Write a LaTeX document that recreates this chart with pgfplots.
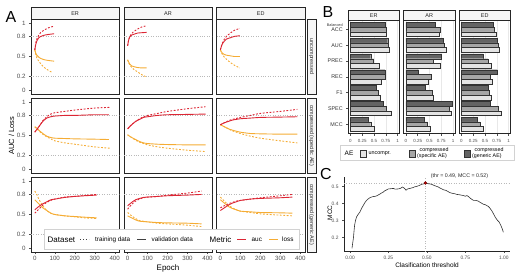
\documentclass[border=0pt]{standalone}
\usepackage{pgfplots}
\pgfplotsset{compat=1.18}
\usepackage{fontspec}
\setmainfont{Liberation Sans}
\definecolor{aucred}{RGB}{220,38,52}
\definecolor{lossor}{RGB}{245,172,52}
\definecolor{tickgray}{RGB}{77,77,77}
\definecolor{genc}{RGB}{100,100,100}
\definecolor{specc}{RGB}{166,166,166}
\definecolor{uncc}{RGB}{228,228,228}
\newcommand{\fs}[1]{\fontsize{#1}{#1}\selectfont}

\pgfplotsset{
  Abase/.style={
    scale only axis, width=88.3bp, height=75bp, anchor=north west,
    xmin=-19, xmax=423, ymin=-0.06, ymax=1.06,
    xtick={0,100,200,300,400}, ytick={0,0.2,0.5,0.8,1},
    yticklabels={0,0.2,0.5,0.8,1},
    axis line style={line width=0.6bp, black!85},
    tick align=outside, major tick length=2bp,
    tick style={tickgray, line width=0.4bp},
    xtick pos=left, ytick pos=left,
    ticklabel style={font=\fs{6.2}, text=tickgray},
    xticklabel style={yshift=1bp},
    /pgf/number format/assume math mode=true,
    no markers,
  },
  gridA/.style={gray!55, dotted, line width=0.45bp, forget plot},
  aucval/.style={aucred, line width=0.9bp, smooth, tension=0.4},
  auctr/.style={aucred, line width=0.9bp, smooth, tension=0.4, dash pattern=on 1.8bp off 1.6bp},
  lossval/.style={lossor, line width=0.9bp, smooth, tension=0.4},
  losstr/.style={lossor, line width=0.9bp, smooth, tension=0.4, dash pattern=on 1.8bp off 1.6bp},
  Bbase/.style={
    scale only axis, width=51.5bp, height=113.7bp, anchor=north west,
    xmin=-0.05, xmax=1.04, ymin=-0.6, ymax=6.6, y dir=reverse,
    xtick={0,0.25,0.5,0.75,1}, xticklabels={0,0.25,0.5,0.75,1},
    ytick={0,1,2,3,4,5,6},
    xmajorgrids, major grid style={gray!18, line width=0.5bp},
    axis line style={line width=0.6bp, black!85},
    tick align=outside, major tick length=1.8bp,
    tick style={tickgray, line width=0.4bp},
    xtick pos=left, ytick pos=left,
    xticklabel style={font=\fs{4.5}, text=tickgray},
    yticklabel style={font=\fs{5.4}, text=black!80},
    /pgf/number format/assume math mode=true,
  },
  gbar/.style={xbar, bar width=0.3, bar shift=-0.3, fill=genc, draw=black!80, line width=0.35bp},
  sbar/.style={xbar, bar width=0.3, bar shift=0, fill=specc, draw=black!80, line width=0.35bp},
  ubar/.style={xbar, bar width=0.3, bar shift=0.3, fill=uncc, draw=black!80, line width=0.35bp},
}
\newcommand{\gridA}{%
  \addplot[gridA] coordinates {(-19,0.2) (423,0.2)};
  \addplot[gridA] coordinates {(-19,0.8) (423,0.8)};}

\begin{document}
\begin{tikzpicture}
\useasboundingbox (0,0) rectangle (520bp,-277bp);

% ================= PANEL A =================
% ---- row 1: uncompressed
\begin{axis}[Abase, at={(31bp,-19bp)}, xmajorticks=false]
\gridA
\addplot[lossval] coordinates {(0,0.60) (5,0.55) (10,0.52) (20,0.49) (30,0.47) (50,0.45) (70,0.44) (97,0.43)};
\addplot[losstr] coordinates {(0,0.60) (5,0.53) (10,0.48) (20,0.43) (30,0.39) (50,0.33) (70,0.29) (88,0.26)};
\addplot[aucval] coordinates {(0,0.60) (5,0.68) (10,0.73) (20,0.78) (30,0.80) (50,0.82) (70,0.83) (97,0.84)};
\addplot[auctr] coordinates {(0,0.60) (5,0.70) (10,0.76) (20,0.82) (30,0.86) (50,0.90) (70,0.93) (93,0.95)};
\end{axis}
\begin{axis}[Abase, at={(123.8bp,-19bp)}, xmajorticks=false, ymajorticks=false]
\gridA
\addplot[lossval] coordinates {(0,0.45) (5,0.42) (10,0.39) (20,0.36) (30,0.35) (50,0.335) (70,0.33) (95,0.33)};
\addplot[losstr] coordinates {(0,0.45) (5,0.41) (10,0.38) (20,0.34) (30,0.31) (50,0.27) (70,0.23) (90,0.20)};
\addplot[aucval] coordinates {(0,0.66) (5,0.74) (10,0.79) (20,0.82) (30,0.83) (50,0.85) (70,0.855) (95,0.86)};
\addplot[auctr] coordinates {(0,0.66) (5,0.74) (10,0.79) (20,0.84) (30,0.87) (50,0.91) (70,0.94) (95,0.96)};
\end{axis}
\begin{axis}[Abase, at={(216.6bp,-19bp)}, xmajorticks=false, ymajorticks=false]
\gridA
\addplot[lossval] coordinates {(0,0.60) (5,0.57) (10,0.55) (20,0.53) (30,0.52) (50,0.51) (70,0.50) (97,0.50)};
\addplot[losstr] coordinates {(0,0.60) (5,0.56) (10,0.53) (20,0.49) (30,0.46) (50,0.41) (70,0.37) (97,0.33)};
\addplot[aucval] coordinates {(0,0.60) (5,0.65) (10,0.69) (20,0.73) (30,0.76) (50,0.78) (70,0.80) (97,0.81)};
\addplot[auctr] coordinates {(0,0.60) (5,0.66) (10,0.70) (20,0.76) (30,0.80) (50,0.85) (70,0.89) (97,0.92)};
\end{axis}
% ---- row 2: compressed (specific AE)
\begin{axis}[Abase, at={(31bp,-98bp)}, xmajorticks=false]
\gridA
\addplot[lossval] coordinates {(0,0.63) (10,0.61) (20,0.58) (40,0.53) (60,0.49) (80,0.47) (100,0.46) (150,0.455) (200,0.45) (300,0.445) (371,0.44)};
\addplot[losstr] coordinates {(0,0.63) (10,0.60) (20,0.57) (40,0.52) (60,0.48) (80,0.45) (100,0.42) (150,0.39) (200,0.37) (300,0.33) (376,0.31)};
\addplot[aucval] coordinates {(0,0.55) (20,0.63) (40,0.71) (60,0.76) (80,0.78) (100,0.79) (150,0.80) (200,0.80) (300,0.81) (371,0.81)};
\addplot[auctr] coordinates {(0,0.55) (20,0.63) (40,0.72) (60,0.78) (80,0.82) (100,0.84) (150,0.86) (200,0.88) (300,0.91) (376,0.92)};
\end{axis}
\begin{axis}[Abase, at={(123.8bp,-98bp)}, xmajorticks=false, ymajorticks=false]
\gridA
\addplot[lossval] coordinates {(0,0.51) (20,0.47) (40,0.44) (60,0.41) (80,0.39) (100,0.38) (150,0.37) (200,0.365) (300,0.36) (390,0.36)};
\addplot[losstr] coordinates {(0,0.51) (20,0.47) (40,0.43) (60,0.40) (80,0.38) (100,0.36) (150,0.33) (200,0.31) (300,0.28) (390,0.26)};
\addplot[aucval] coordinates {(0,0.60) (20,0.66) (40,0.71) (60,0.74) (80,0.77) (100,0.78) (150,0.80) (200,0.81) (300,0.815) (390,0.82)};
\addplot[auctr] coordinates {(0,0.60) (20,0.66) (40,0.71) (60,0.75) (80,0.78) (100,0.80) (150,0.83) (200,0.86) (300,0.90) (390,0.93)};
\end{axis}
\begin{axis}[Abase, at={(216.6bp,-98bp)}, xmajorticks=false, ymajorticks=false]
\gridA
\addplot[lossval] coordinates {(0,0.66) (20,0.63) (40,0.60) (60,0.58) (100,0.55) (150,0.53) (200,0.525) (300,0.52) (385,0.52)};
\addplot[losstr] coordinates {(0,0.66) (20,0.63) (40,0.60) (60,0.57) (100,0.53) (150,0.49) (200,0.46) (300,0.42) (385,0.39)};
\addplot[aucval] coordinates {(0,0.66) (20,0.69) (40,0.71) (60,0.73) (100,0.75) (150,0.76) (200,0.77) (300,0.775) (385,0.78)};
\addplot[auctr] coordinates {(0,0.66) (20,0.69) (40,0.72) (60,0.74) (100,0.77) (150,0.80) (200,0.83) (300,0.86) (385,0.89)};
\end{axis}
% ---- row 3: compressed (generic AE)
\begin{axis}[Abase, at={(31bp,-177bp)}]
\gridA
\addplot[lossval] coordinates {(0,0.72) (20,0.66) (40,0.60) (60,0.56) (80,0.52) (100,0.50) (150,0.48) (200,0.47) (250,0.46) (310,0.45)};
\addplot[losstr] coordinates {(0,0.85) (10,0.80) (20,0.73) (40,0.63) (60,0.56) (80,0.52) (100,0.50) (150,0.48) (200,0.465) (250,0.45) (310,0.44)};
\addplot[aucval] coordinates {(0,0.57) (20,0.62) (40,0.66) (60,0.69) (80,0.72) (100,0.73) (150,0.755) (200,0.77) (250,0.78) (310,0.79)};
\addplot[auctr] coordinates {(0,0.52) (20,0.58) (40,0.64) (60,0.68) (80,0.71) (100,0.73) (150,0.76) (200,0.77) (250,0.785) (310,0.80)};
\end{axis}
\begin{axis}[Abase, at={(123.8bp,-177bp)}, ymajorticks=false]
\gridA
\addplot[lossval] coordinates {(0,0.48) (20,0.45) (40,0.42) (60,0.40) (100,0.39) (150,0.38) (200,0.375) (300,0.37) (370,0.36)};
\addplot[losstr] coordinates {(0,0.53) (20,0.48) (40,0.44) (60,0.41) (100,0.39) (150,0.37) (200,0.36) (300,0.34) (370,0.32)};
\addplot[aucval] coordinates {(0,0.63) (20,0.68) (40,0.72) (60,0.74) (80,0.755) (100,0.76) (150,0.77) (200,0.78) (300,0.79) (370,0.80)};
\addplot[auctr] coordinates {(0,0.58) (20,0.65) (40,0.70) (60,0.73) (80,0.75) (100,0.76) (150,0.77) (200,0.79) (300,0.82) (370,0.85)};
\end{axis}
\begin{axis}[Abase, at={(216.6bp,-177bp)}, ymajorticks=false]
\gridA
\addplot[lossval] coordinates {(0,0.72) (20,0.67) (40,0.62) (60,0.59) (80,0.57) (100,0.55) (150,0.54) (200,0.53) (300,0.525) (360,0.52)};
\addplot[losstr] coordinates {(0,0.76) (20,0.70) (40,0.64) (60,0.60) (80,0.57) (100,0.55) (150,0.53) (200,0.51) (300,0.49) (360,0.48)};
\addplot[aucval] coordinates {(0,0.56) (20,0.60) (40,0.64) (60,0.67) (80,0.69) (100,0.71) (150,0.73) (200,0.74) (300,0.75) (360,0.76)};
\addplot[auctr] coordinates {(0,0.60) (20,0.63) (40,0.66) (60,0.68) (80,0.70) (100,0.71) (150,0.73) (200,0.75) (300,0.78) (360,0.80)};
\end{axis}

% strips A
\begin{scope}[x=1bp, y=1bp, line width=0.6bp]
\foreach \x/\t in {31/ER, 123.8/AR, 216.6/ED}{
  \draw[fill=gray!7, draw=black!85] (\x,-7) rectangle ({\x+88.3},-19);
  \node[font=\fs{5.5}, text=black!85] at ({\x+44.15},-13.2) {\t};
}
\foreach \y/\t in {19/uncompressed, 98/compressed (specific AE), 177/compressed (generic AE)}{
  \draw[fill=gray!7, draw=black!85] (307,-\y) rectangle (316,{-\y-75});
  \node[font=\fs{5.4}, text=black!85, rotate=-90] at (311.5,{-\y-37.5}) {\t};
}
\end{scope}

% legend A
\draw[fill=white, draw=gray!35, line width=0.5bp] (44bp,-229.5bp) rectangle (299bp,-249bp);
\node[anchor=west, font=\fs{8}, inner sep=0] at (47.5bp,-239.5bp) {Dataset};
\draw[black!75, line width=0.9bp, dash pattern=on 1.4bp off 1.6bp] (80bp,-239.5bp) -- (89bp,-239.5bp);
\node[anchor=west, font=\fs{6.4}, inner sep=0] at (95bp,-239.5bp) {training data};
\draw[black!75, line width=0.9bp] (137bp,-239.5bp) -- (146bp,-239.5bp);
\node[anchor=west, font=\fs{6.4}, inner sep=0] at (151.5bp,-239.5bp) {validation data};
\node[anchor=west, font=\fs{8}, inner sep=0] at (209.5bp,-239.5bp) {Metric};
\draw[aucred, line width=0.9bp] (237bp,-239.5bp) -- (246bp,-239.5bp);
\node[anchor=west, font=\fs{6.4}, inner sep=0] at (251.5bp,-239.5bp) {auc};
\draw[lossor, line width=0.9bp] (269bp,-239.5bp) -- (278bp,-239.5bp);
\node[anchor=west, font=\fs{6.4}, inner sep=0] at (282bp,-239.5bp) {loss};

\node[font=\fs{16}] at (11bp,-17.5bp) {A};
\node[font=\fs{7.5}, rotate=90] at (11.5bp,-135.5bp) {AUC / Loss};
\node[font=\fs{8}] at (168bp,-268bp) {Epoch};

% ================= PANEL B =================
\begin{axis}[Bbase, at={(348bp,-20bp)},
  yticklabels={{ACC\llap{\smash{\raisebox{5.2bp}{\fs{3.8}Balanced}}}},AUC,PREC,REC,F1,SPEC,MCC}]
\addplot[gbar] coordinates {(0.73,0) (0.79,1) (0.43,2) (0.73,3) (0.54,4) (0.70,5) (0.37,6)};
\addplot[sbar] coordinates {(0.75,0) (0.80,1) (0.49,2) (0.74,3) (0.58,4) (0.76,5) (0.43,6)};
\addplot[ubar] coordinates {(0.76,0) (0.83,1) (0.61,2) (0.65,3) (0.63,4) (0.87,5) (0.51,6)};
\end{axis}
\begin{axis}[Bbase, at={(403.5bp,-20bp)}, ymajorticks=false]
\addplot[gbar] coordinates {(0.63,0) (0.80,1) (0.74,2) (0.27,3) (0.40,4) (0.99,5) (0.39,6)};
\addplot[sbar] coordinates {(0.73,0) (0.81,1) (0.58,2) (0.53,3) (0.56,4) (0.92,5) (0.46,6)};
\addplot[ubar] coordinates {(0.71,0) (0.85,1) (0.73,2) (0.47,3) (0.57,4) (0.96,5) (0.51,6)};
\end{axis}
\begin{axis}[Bbase, at={(459bp,-20bp)}, ymajorticks=false]
\addplot[gbar] coordinates {(0.68,0) (0.76,1) (0.46,2) (0.76,3) (0.57,4) (0.61,5) (0.33,6)};
\addplot[sbar] coordinates {(0.70,0) (0.77,1) (0.56,2) (0.62,3) (0.58,4) (0.78,5) (0.39,6)};
\addplot[ubar] coordinates {(0.73,0) (0.80,1) (0.63,2) (0.65,3) (0.63,4) (0.84,5) (0.47,6)};
\end{axis}
\begin{scope}[x=1bp, y=1bp, line width=0.6bp]
\foreach \x/\t in {348/ER, 403.5/AR, 459/ED}{
  \draw[fill=gray!7, draw=black!85] (\x,-10) rectangle ({\x+51.5},-20);
  \node[font=\fs{5.5}, text=black!85] at ({\x+25.75},-15.2) {\t};
}
\end{scope}
% legend B
\draw[fill=white, draw=gray!35, line width=0.5bp] (340bp,-145.7bp) rectangle (514bp,-160bp);
\node[anchor=west, font=\fs{6.5}, inner sep=0] at (344.5bp,-153.5bp) {AE};
\draw[fill=uncc, draw=black!80, line width=0.35bp] (360bp,-150.3bp) rectangle (366.5bp,-156.8bp);
\node[anchor=west, font=\fs{5.4}, inner sep=0] at (368.5bp,-153.3bp) {uncompr.};
\draw[fill=specc, draw=black!80, line width=0.35bp] (409bp,-150.3bp) rectangle (415.5bp,-156.8bp);
\node[anchor=west, font=\fs{5.3}, inner sep=0, align=left] at (417bp,-153bp) {\hspace*{2.5bp}compressed\\(specific AE)};
\draw[fill=genc, draw=black!80, line width=0.35bp] (464bp,-150.3bp) rectangle (470.5bp,-156.8bp);
\node[anchor=west, font=\fs{5.3}, inner sep=0, align=left] at (472bp,-153bp) {\hspace*{2.5bp}compressed\\(generic AE)};
\node[font=\fs{16}] at (328bp,-12.5bp) {B};

% ================= PANEL C =================
\begin{axis}[scale only axis, width=165.8bp, height=74bp, anchor=south west, at={(344bp,-251bp)},
  xmin=-0.039, xmax=1.039, ymin=0.12, ymax=0.555,
  axis lines=left, axis line style={-, line width=0.6bp, black!85},
  xtick={0,0.25,0.5,0.75,1}, xticklabels={0.00,0.25,0.50,0.75,1.00},
  ytick={0.2,0.3,0.4,0.5}, yticklabels={0.2,0.3,0.4,0.5},
  tick align=outside, major tick length=2bp, tick style={tickgray, line width=0.4bp},
  ticklabel style={font=\fs{4.9}, text=tickgray},
  /pgf/number format/assume math mode=true, clip=false]
\addplot[gray!55, dotted, line width=0.5bp] coordinates {(0.49,0.12) (0.49,0.555)};
\addplot[gray!55, dotted, line width=0.5bp] coordinates {(-0.039,0.52) (1.039,0.52)};
\addplot[black!80, line width=0.6bp, mark=none] coordinates {
(0.013,0.136) (0.018,0.170) (0.022,0.194) (0.026,0.235) (0.030,0.272) (0.036,0.300) (0.043,0.321) (0.052,0.334) (0.065,0.350) (0.075,0.370) (0.087,0.389) (0.097,0.405) (0.108,0.418) (0.118,0.426) (0.130,0.434) (0.15,0.440) (0.162,0.441) (0.173,0.444) (0.185,0.450) (0.195,0.455) (0.205,0.461) (0.217,0.467) (0.226,0.474) (0.235,0.478) (0.25,0.485) (0.265,0.486) (0.282,0.488) (0.292,0.484) (0.30,0.484) (0.315,0.485) (0.33,0.489) (0.34,0.496) (0.347,0.493) (0.355,0.488) (0.364,0.477) (0.375,0.485) (0.390,0.488) (0.41,0.493) (0.42,0.497) (0.434,0.500) (0.45,0.505) (0.466,0.512) (0.48,0.515) (0.49,0.52) (0.505,0.516) (0.52,0.514) (0.531,0.512) (0.545,0.506) (0.563,0.500) (0.575,0.496) (0.585,0.490) (0.595,0.486) (0.607,0.480) (0.625,0.476) (0.64,0.468) (0.650,0.463) (0.67,0.458) (0.68,0.457) (0.693,0.453) (0.715,0.450) (0.737,0.446) (0.75,0.442) (0.76,0.446) (0.769,0.441) (0.785,0.428) (0.802,0.418) (0.815,0.418) (0.825,0.416) (0.834,0.413) (0.85,0.404) (0.867,0.395) (0.88,0.392) (0.899,0.382) (0.908,0.374) (0.915,0.365) (0.925,0.352) (0.932,0.340) (0.945,0.318) (0.958,0.301) (0.97,0.290) (0.980,0.272) (0.99,0.250) (0.997,0.230)};
\addplot[only marks, mark=*, mark size=1.5bp, fill=red!75!black, draw=red!40!black, line width=0.3bp] coordinates {(0.49,0.52)};
\node[font=\fs{5.3}, text=black!85] at (axis cs:0.712,0.559) {(thr = 0.49, MCC = 0.52)};
\end{axis}
\node[font=\fs{16}] at (326bp,-174bp) {C};
\node[font=\fs{6.5}, rotate=90] at (330bp,-213bp) {MCC};
\node[font=\fs{6.5}] at (427bp,-265bp) {Clasification threshold};

\end{tikzpicture}
\end{document}
